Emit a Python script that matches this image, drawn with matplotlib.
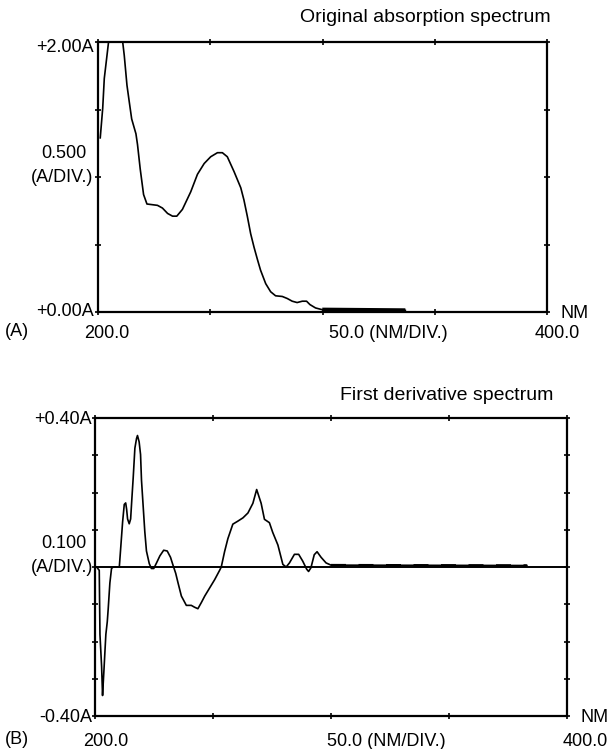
import matplotlib
matplotlib.use("Agg")
import matplotlib.pyplot as plt

plt.rcParams['font.family'] = ['Liberation Sans', 'DejaVu Sans']

# ---- data: original absorption spectrum (nm, A) ----
abs_nm = [201.0, 202.1, 202.8, 204.0, 204.7, 211.0, 211.7, 212.9, 213.9, 215.0,
          216.9, 217.6, 218.8, 220.3, 221.8, 226.5, 228.7, 231.0, 233.2, 235.1,
          237.6, 241.3, 244.3, 247.3, 250.2, 253.2, 255.4, 257.6, 260.6, 263.6,
          265.0, 266.5, 268.0, 269.5, 271.0, 272.4, 274.7, 276.9, 279.1, 282.1,
          284.3, 286.5, 288.7, 291.0, 292.9, 294.4, 296.9, 299.9, 336.9]
abs_A = [1.29, 1.51, 1.73, 1.90, 2.00, 2.00, 1.90, 1.68, 1.56, 1.43,
         1.32, 1.24, 1.06, 0.87, 0.80, 0.79, 0.77, 0.73, 0.71, 0.71,
         0.76, 0.89, 1.02, 1.10, 1.15, 1.18, 1.18, 1.15, 1.04, 0.92,
         0.83, 0.71, 0.58, 0.48, 0.39, 0.31, 0.21, 0.15, 0.12, 0.115,
         0.10, 0.08, 0.07, 0.08, 0.08, 0.055, 0.03, 0.017, 0.012]

# ---- data: first derivative spectrum (nm, A) ----
der_nm = [200.7, 201.8, 202.1, 202.8, 203.2, 203.5, 203.8, 204.2, 204.6, 205.2,
          205.6, 206.3, 207.0, 207.7, 210.3, 210.8, 211.7, 212.4, 213.0, 213.4,
          213.8, 214.5, 215.1, 215.6, 216.2, 216.9, 217.6, 218.0, 218.7, 219.3,
          219.7, 220.4, 221.1, 221.8, 223.0, 223.9, 224.9, 226.0, 227.5, 229.1,
          230.6, 232.0, 233.1, 234.2, 235.2, 236.6, 238.7, 240.8, 242.2, 243.6,
          245.1, 246.5, 248.6, 250.7, 252.8, 253.5, 254.9, 256.3, 258.4, 260.5,
          262.7, 264.8, 266.9, 268.5, 270.4, 271.8, 273.9, 275.3, 277.5, 279.6,
          281.0, 282.4, 284.5, 286.3, 288.0, 289.7, 290.5, 291.5, 292.9, 294.1,
          295.8, 297.9, 300.0, 383.0]
der_A = [0.0, -0.009, -0.181, -0.267, -0.345, -0.31, -0.276, -0.228, -0.181, -0.147,
         -0.112, -0.043, -0.004, 0.0, 0.0, 0.043, 0.121, 0.168, 0.172, 0.155,
         0.129, 0.116, 0.129, 0.181, 0.241, 0.319, 0.345, 0.353, 0.336, 0.302,
         0.233, 0.164, 0.095, 0.043, 0.009, -0.004, -0.004, 0.010, 0.030, 0.045,
         0.043, 0.026, 0.004, -0.017, -0.043, -0.078, -0.103, -0.103, -0.108, -0.112,
         -0.095, -0.078, -0.056, -0.034, -0.009, 0.0, 0.041, 0.076, 0.115, 0.123,
         0.132, 0.145, 0.171, 0.208, 0.171, 0.128, 0.119, 0.093, 0.059, 0.007,
         0.0, 0.011, 0.034, 0.034, 0.016, -0.006, -0.012, -0.002, 0.033, 0.041,
         0.026, 0.011, 0.005, 0.004]

x_ticks = [200, 250, 300, 350, 400]
abs_yticks = [0.0, 0.5, 1.0, 1.5, 2.0]
der_yticks = [-0.4, -0.3, -0.2, -0.1, 0.0, 0.1, 0.2, 0.3, 0.4]

W, H = 610, 749
fig = plt.figure(figsize=(W / 100, H / 100), dpi=100)


def ax_px(l, r, t, b):
    return fig.add_axes([l / W, 1 - b / H, (r - l) / W, (b - t) / H])


def txt(x, y, s, ha='left', va='center', size=13):
    fig.text(x / W, 1 - y / H, s, ha=ha, va=va, fontsize=size, color='black')


def style(ax):
    for sp in ax.spines.values():
        sp.set_linewidth(1.6)
        sp.set_color('black')
    ax.tick_params(direction='inout', length=5, width=1.2, top=True, right=True,
                   labelleft=False, labelbottom=False)


# ---------- top panel ----------
ax1 = ax_px(98, 547, 42, 312)
ax1.plot(abs_nm, abs_A, color='black', lw=1.2)
tail = [i for i, v in enumerate(abs_nm) if v >= 299.9]
ax1.plot([abs_nm[i] for i in tail], [abs_A[i] for i in tail], color='black', lw=3.0,
         solid_capstyle='butt')
ax1.set_xlim(200, 400)
ax1.set_ylim(0, 2.0)
ax1.set_xticks(x_ticks)
ax1.set_yticks(abs_yticks)
style(ax1)

# ---------- bottom panel ----------
ax2 = ax_px(95, 567, 418, 716)
ax2.axhline(0, color='black', lw=1.4)
ax2.plot(der_nm, der_A, color='black', lw=1.2)
tail2 = [i for i, v in enumerate(der_nm) if v >= 300.0]
ax2.plot([der_nm[i] for i in tail2], [der_A[i] for i in tail2], color='black',
         lw=1.8, dashes=(6, 5))
ax2.set_xlim(200, 400)
ax2.set_ylim(-0.4, 0.4)
ax2.set_xticks(x_ticks)
ax2.set_yticks(der_yticks)
style(ax2)

# ---------- texts ----------
txt(551, 18, 'Original absorption spectrum', ha='right', size=14)
txt(94, 47, '+2.00A', ha='right')
txt(86, 154, '0.500', ha='right')
txt(93, 178, '(A/DIV.)', ha='right')
txt(94, 311, '+0.00A', ha='right')
txt(5, 331, '(A)', ha='left')
txt(107, 334, '200.0', ha='center')
txt(388, 334, '50.0 (NM/DIV.)', ha='center')
txt(557, 334, '400.0', ha='center')
txt(560, 313, 'NM', ha='left')

txt(553, 395, 'First derivative spectrum', ha='right', size=14)
txt(92, 419, '+0.40A', ha='right')
txt(86, 544, '0.100', ha='right')
txt(93, 567, '(A/DIV.)', ha='right')
txt(92, 718, '-0.40A', ha='right')
txt(5, 740, '(B)', ha='left')
txt(106, 741, '200.0', ha='center')
txt(386, 741, '50.0 (NM/DIV.)', ha='center')
txt(563, 741, '400.0', ha='left')
txt(580, 718, 'NM', ha='left')

fig.savefig('out.png', dpi=100)
